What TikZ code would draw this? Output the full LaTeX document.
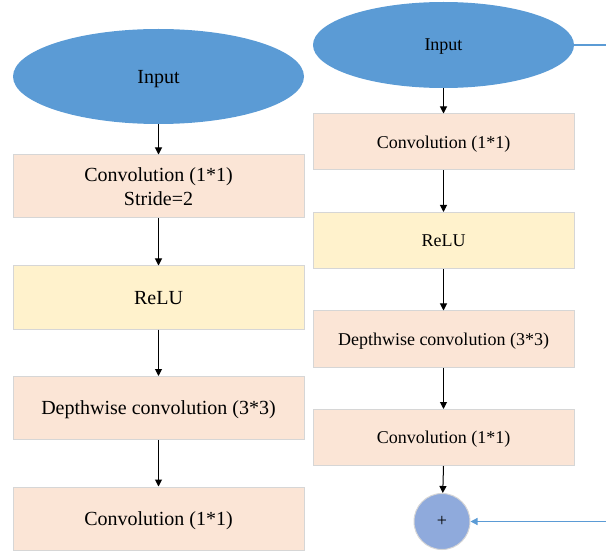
\documentclass[tikz,border=0pt]{standalone}
\usepackage{fontspec}
\setmainfont{Liberation Serif}
\usetikzlibrary{shapes.geometric,arrows.meta}
\definecolor{inblue}{HTML}{5B9BD5}
\definecolor{peach}{HTML}{FBE5D6}
\definecolor{lightyel}{HTML}{FFF2CC}
\definecolor{edgegray}{HTML}{D6D6D6}
\definecolor{plusblue}{HTML}{8FAADC}
\tikzset{
  inell/.style={ellipse, fill=inblue, draw=none, inner sep=0pt, text depth=0pt},
  bigbox/.style={rectangle, draw=edgegray, line width=0.5pt, inner sep=0pt, align=center, text depth=0pt,
     minimum width=145.5pt, minimum height=31.5pt, font=\fontsize{10}{11.7}\selectfont},
  smallbox/.style={rectangle, draw=edgegray, line width=0.5pt, inner sep=0pt, align=center, text depth=0pt,
     minimum width=130.5pt, minimum height=28pt, font=\fontsize{9}{11}\selectfont},
  flow/.style={draw=black, line width=0.5pt, -{Triangle[length=3.5pt,width=3.5pt]}},
  blueline/.style={draw=inblue, line width=0.6pt},
}
\begin{document}
\begin{tikzpicture}[x=0.5pt,y=-0.5pt]
\useasboundingbox (0,0) rectangle (606,551);
% left column
\node[inell, minimum width=145.5pt, minimum height=47.5pt, font=\fontsize{10}{12}\selectfont] (lin) at (158.5,76.5) {Input};
\node[bigbox, fill=peach] (l1) at (158.5,186.5) {Convolution (1*1)\\Stride=2};
\node[bigbox, fill=lightyel] (l2) at (158.5,297.5) {ReLU};
\node[bigbox, fill=peach] (l3) at (158.5,408) {Depthwise convolution (3*3)};
\node[bigbox, fill=peach] (l4) at (158.5,518.5) {Convolution (1*1)};
\draw[flow] (lin) -- (l1);
\draw[flow] (l1) -- (l2);
\draw[flow] (l2) -- (l3);
\draw[flow] (l3) -- (l4);
% right column
\node[inell, minimum width=130.5pt, minimum height=43pt, font=\fontsize{9}{11}\selectfont] (rin) at (443.5,45) {Input};
\node[smallbox, fill=peach] (r1) at (443.5,142) {Convolution (1*1)};
\node[smallbox, fill=lightyel] (r2) at (443.5,240.5) {ReLU};
\node[smallbox, fill=peach] (r3) at (443.5,339) {Depthwise convolution (3*3)};
\node[smallbox, fill=peach] (r4) at (443.5,437.5) {Convolution (1*1)};
\node[circle, fill=plusblue, draw=edgegray, line width=0.5pt, minimum size=28pt, inner sep=0pt,
      font=\fontsize{9}{11}\selectfont] (plus) at (442,521.5) {+};
\draw[flow] (rin) -- (r1);
\draw[flow] (r1) -- (r2);
\draw[flow] (r2) -- (r3);
\draw[flow] (r3) -- (r4);
\draw[flow] (r4.south) -- (plus);
\coordinate (skipa) at (606,45);
\coordinate (skipb) at (606,521.5);
\draw[blueline] (rin.east) -- (skipa);
\draw[blueline, -{Triangle[length=3.5pt,width=3.5pt]}] (skipb) -- (plus.east);
\end{tikzpicture}
\end{document}
